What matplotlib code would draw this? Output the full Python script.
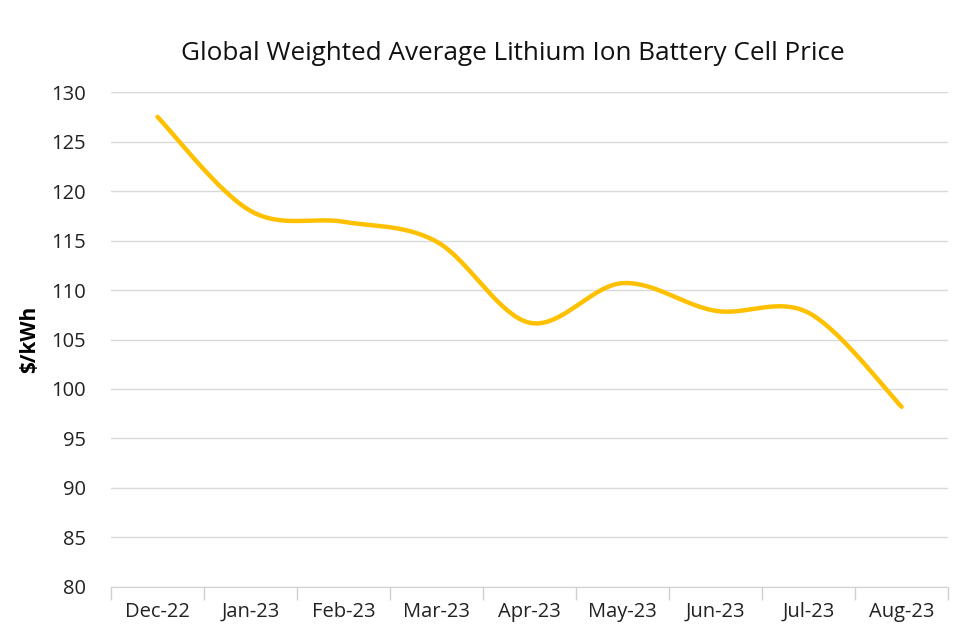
import numpy as np
import matplotlib.pyplot as plt

plt.rcParams['font.family'] = ['Open Sans', 'DejaVu Sans']

# data
months = ['Dec-22', 'Jan-23', 'Feb-23', 'Mar-23', 'Apr-23', 'May-23', 'Jun-23', 'Jul-23', 'Aug-23']
price = [127.5, 118.0, 116.9, 114.9, 106.7, 110.7, 107.9, 107.7, 98.2]


def smooth(xs, ys, steps=40):
    # Excel style smoothed line (Catmull-Rom through every point)
    xs = np.asarray(xs, float)
    ys = np.asarray(ys, float)
    px = np.concatenate([[xs[0]], xs, [xs[-1]]])
    py = np.concatenate([[ys[0]], ys, [ys[-1]]])
    outx, outy = [], []
    t = np.linspace(0, 1, steps)
    for i in range(1, len(px) - 2):
        for p, out in ((px, outx), (py, outy)):
            p0, p1, p2, p3 = p[i - 1], p[i], p[i + 1], p[i + 2]
            c1 = p1 + (p2 - p0) / 6
            c2 = p2 - (p3 - p1) / 6
            out.extend((1 - t) ** 3 * p1 + 3 * (1 - t) ** 2 * t * c1
                       + 3 * (1 - t) * t ** 2 * c2 + t ** 3 * p2)
    return outx, outy


fig = plt.figure(figsize=(9.6, 6.4), dpi=100)
ax = fig.add_axes([0.1156, 0.083, 0.872, 0.773])

x = np.arange(len(months))
sx, sy = smooth(x, price)
ax.plot(sx, sy, color='#FFC000', lw=3.2, solid_capstyle='round', zorder=3)

ax.set_xlim(-0.5, len(months) - 0.5)
ax.set_ylim(80, 130)
ax.set_yticks(range(80, 131, 5))
ax.set_xticks(x)
ax.set_xticklabels(months)
ax.set_xticks(np.arange(-0.5, len(months)), minor=True)
ax.tick_params(axis='x', which='major', length=0, pad=11, labelsize=14.5, colors='#222222')
ax.tick_params(axis='x', which='minor', length=9, width=1, color='#d0d0d0')
ax.tick_params(axis='y', length=0, pad=18, labelsize=14.5, colors='#222222')

ax.grid(axis='y', color='#d9d9d9', lw=1)
ax.set_axisbelow(True)
for s in ['top', 'right', 'left']:
    ax.spines[s].set_visible(False)
ax.spines['bottom'].set_color('#d0d0d0')

ax.set_ylabel('$/kWh', fontsize=15, fontweight='bold', labelpad=8)
fig.text(0.534, 0.916, 'Global Weighted Average Lithium Ion Battery Cell Price',
         ha='center', va='center', fontsize=18.8, color='#111111')

fig.savefig('out.png', dpi=100, facecolor='white')
